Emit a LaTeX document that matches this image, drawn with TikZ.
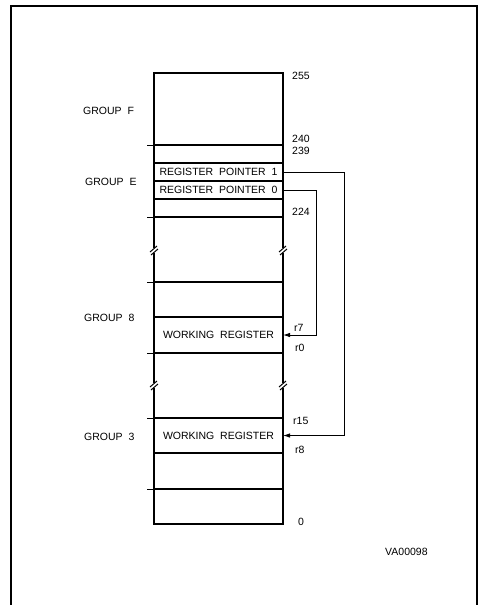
\documentclass[tikz,border=0pt]{standalone}
\usepackage{fontspec}
\setmainfont{Liberation Sans}
\usepackage{xcolor}
\usepackage{tikz}
\usetikzlibrary{shapes,arrows,arrows.meta,positioning,calc}

\tikzset{
  cell/.style={draw, line width=1.3pt, minimum width=129pt, inner sep=0pt, outer sep=0pt, font=\fontsize{10.5}{12}\selectfont},
  lbl/.style={anchor=west, inner sep=0pt, font=\fontsize{10.5}{12}\selectfont},
  link/.style={line width=0.9pt, -{Latex[length=7pt,width=4.5pt]}},
  side/.style={line width=1.3pt}
}
% break mark on a side line
\newcommand{\brkmark}[2]{%
  \draw[line width=1pt] (#1-4,#2+2) -- (#1+3,#2-4);
  \draw[line width=1pt] (#1-3,#2+5) -- (#1+4,#2-1);
}

\begin{document}
\begin{tikzpicture}[x=1pt,y=-1pt]
\useasboundingbox (0,0) rectangle (480,605);
% frame
\draw[line width=1.4pt] (11,605) |- (477,6) -- (477,605);

% upper block: group F and group E
\node[cell, minimum height=72pt] (gf) at (218.5,109) {};
\node[cell, minimum height=18pt, below=0pt of gf] (e3) {};
\node[cell, minimum height=18pt, below=0pt of e3] (rp1) {REGISTER\ \ POINTER\ \ 1};
\node[cell, minimum height=18pt, below=0pt of rp1] (rp0) {REGISTER\ \ POINTER\ \ 0};
\node[cell, minimum height=18pt, below=0pt of rp0] (e0) {};

% group 8
\node[cell, minimum height=35pt] (g8a) at (218.5,299.5) {};
\node[cell, minimum height=36pt, below=0pt of g8a] (wr8) {WORKING\ \ REGISTER};

% group 3
\node[cell, minimum height=35pt] (wr3) at (218.5,435.5) {WORKING\ \ REGISTER};
\node[cell, minimum height=36pt, below=0pt of wr3] (g3a) {};
\node[cell, minimum height=35pt, below=0pt of g3a] (g2a) {};

% broken side lines
\coordinate (b1) at (0,250);
\coordinate (b2) at (0,385);
\draw[side] (e0.south west) -- ($(e0.south west |- b1)+(0,-2)$);
\draw[side] ($(e0.south west |- b1)+(0,3)$) -- (g8a.north west);
\draw[side] (e0.south east) -- ($(e0.south east |- b1)+(0,-2)$);
\draw[side] ($(e0.south east |- b1)+(0,3)$) -- (g8a.north east);
\draw[side] (wr8.south west) -- ($(wr8.south west |- b2)+(0,-2)$);
\draw[side] ($(wr8.south west |- b2)+(0,3)$) -- (wr3.north west);
\draw[side] (wr8.south east) -- ($(wr8.south east |- b2)+(0,-2)$);
\draw[side] ($(wr8.south east |- b2)+(0,3)$) -- (wr3.north east);
\brkmark{154}{250}
\brkmark{283}{250}
\brkmark{154}{385}
\brkmark{283}{385}

% ticks at group boundaries
\foreach \n in {gf.south west, e0.south west, g8a.north west, wr8.south west, wr3.north west, g3a.south west}
  \draw[line width=0.8pt] (\n) -- ++(-7,0);

% group names
\node[lbl] (nf) at (83,111) {GROUP\ \ F};
\node[lbl] (ne) at (85,182) {GROUP\ \ E};
\node[lbl] (n8) at (84,318) {GROUP\ \ 8};
\node[lbl] (n3) at (84,437) {GROUP\ \ 3};

% addresses
\node[lbl] (a255) at (292,76) {255};
\node[lbl] (a240) at (292,139) {240};
\node[lbl] (a239) at (292,151) {239};
\node[lbl] (a224) at (292,212) {224};
\node[lbl] (r7) at (294,328) {r7};
\node[lbl] (r0) at (295,348) {r0};
\node[lbl] (r15) at (293,421) {r15};
\node[lbl] (r8) at (295,450) {r8};
\node[lbl] (a0) at (298,522) {0};

\node[lbl] (tag) at (385,552) {VA00098};

% pointer connectors
\coordinate (bus0) at (316,0);
\coordinate (bus1) at (344,0);
\draw[link] (rp0.east) -- (rp0.east -| bus0) |- (wr8.east);
\draw[link] (rp1.east) -- (rp1.east -| bus1) |- (wr3.east);
\end{tikzpicture}
\end{document}
